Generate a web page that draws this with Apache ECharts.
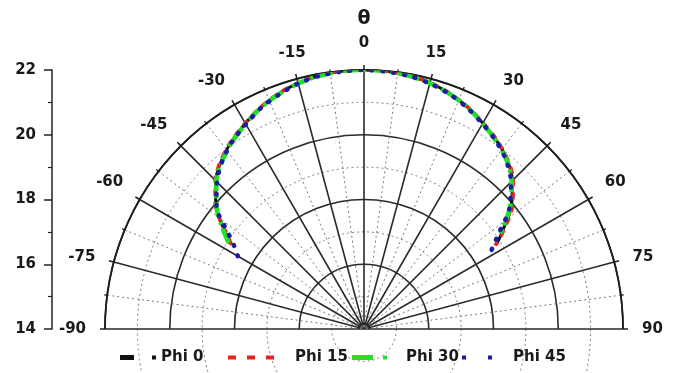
<!DOCTYPE html>
<html>
<head>
<meta charset="utf-8">
<script src="https://cdn.jsdelivr.net/npm/echarts@6/dist/echarts.min.js"></script>
<style>
  html, body { margin: 0; padding: 0; background: #fff; }
  #chart { width: 676px; height: 373px; }
</style>
</head>
<body>
<div id="chart"></div>
<script>
// Polar angle (degrees) shared by every curve
var theta = [-60, -57.5, -55, -50, -45, -40, -35, -30, -25, -20, -15, -10, -5, 0,
             5, 10, 15, 20, 25, 30, 35, 40, 45, 50, 55, 57.5, 60];

// Radial values for each phi cut (null = no sample at that angle)
var phi0  = [null, 18.9, 19.25, 19.98, 20.48, 20.83, 21.1, 21.33, 21.55, 21.73, 21.86, 21.95, 21.99, 22.0,
             21.99, 21.95, 21.87, 21.74, 21.56, 21.34, 21.12, 20.86, 20.48, 19.95, 19.2, 18.85, null];
var phi15 = [null, 18.85, 19.2, 20.0, 20.5, 20.85, 21.12, 21.34, 21.56, 21.74, 21.87, 21.96, 22.0, 22.0,
             22.0, 21.96, 21.88, 21.75, 21.57, 21.36, 21.14, 20.88, 20.52, 20.0, 19.25, 18.8, null];
var phi30 = [null, 18.95, 19.3, 19.95, 20.45, 20.8, 21.08, 21.31, 21.54, 21.71, 21.85, 21.94, 21.99, 22.0,
             21.99, 21.94, 21.86, 21.73, 21.55, 21.33, 21.1, 20.84, 20.45, 19.9, 19.15, null, null];
var phi45 = [18.5, 18.75, 19.1, 19.95, 20.42, 20.8, 21.08, 21.3, 21.53, 21.7, 21.85, 21.94, 21.98, 22.0,
             21.98, 21.94, 21.85, 21.72, 21.54, 21.32, 21.1, 20.82, 20.42, 19.88, 19.05, 18.72, 18.45];

var seriesNames = ['Phi 0', 'Phi 15', 'Phi 30', 'Phi 45'];

var radiusMin = 14, radiusMax = 22, radiusStep = 2;
var angleMin = -90, angleMax = 90, angleStep = 15;

function pairs(values) {
  return values.map(function (r, i) { return [r, theta[i]]; });
}

var FONT = '"DejaVu Sans", Verdana, sans-serif';
var INK = '#1a1a1a';
var labelStyle = { color: INK, fontFamily: FONT, fontWeight: 'bold', fontSize: 15 };

var colors = { 'Phi 0': '#111111', 'Phi 15': '#e8231f', 'Phi 30': '#22e022', 'Phi 45': '#1c1ca8' };

// Key samples, one small legend per entry so each sits where it belongs
var legendIcons = {
  'Phi 0':  { icon: 'path://M0,0h14v5h-14z M32,0.5h4v4h-4z', w: 36, h: 5, left: 120, pad: 0 },
  'Phi 15': { icon: 'path://M0,0h8v4h-8z M19,0h8v4h-8z M38,0h8v4h-8z', w: 46, h: 4, left: 228, pad: 16 },
  'Phi 30': { icon: 'path://M0,0h21v5h-21z M31,0.5h4v4h-4z', w: 35, h: 5, left: 352, pad: 14 },
  'Phi 45': { icon: 'path://M0,0.5h4v4h-4z M26,0.5h4v4h-4z', w: 30, h: 5, left: 462, pad: 16 }
};

var legends = seriesNames.map(function (name) {
  var k = legendIcons[name];
  return {
    data: [{ name: name, icon: k.icon, itemStyle: { color: colors[name] } }],
    left: k.left, top: 350,
    itemWidth: k.w, itemHeight: k.h, itemGap: 0, padding: 0,
    selectedMode: false,
    textStyle: { color: INK, fontFamily: FONT, fontWeight: 'bold', fontSize: 15, padding: [0, 0, 0, k.pad] }
  };
});

var chart = echarts.init(document.getElementById('chart'), null, { renderer: 'canvas' });

chart.setOption({
  backgroundColor: '#fff',
  animation: false,
  graphic: [{
    type: 'text', x: 364, y: 19,
    style: { text: 'θ', fill: INK, font: 'bold 19px ' + FONT, align: 'center', verticalAlign: 'middle' }
  }],
  legend: legends,
  // plain vertical scale for the radius, drawn at the left
  grid: { left: 52, top: 70, width: 1, height: 259 },
  xAxis: { type: 'value', show: false },
  yAxis: {
    type: 'value', min: radiusMin, max: radiusMax, interval: radiusStep,
    axisLine: { show: true, lineStyle: { color: '#222', width: 1.5 } },
    axisTick: { show: true, length: 8, lineStyle: { color: '#222', width: 1.5 } },
    minorTick: { show: true, splitNumber: 2, length: 4, lineStyle: { color: '#222', width: 1.2 } },
    splitLine: { show: false },
    axisLabel: Object.assign({ margin: 16 }, labelStyle)
  },
  polar: { center: [364, 329], radius: [0, 259] },
  angleAxis: {
    type: 'value', min: angleMin, max: angleMax, interval: angleStep,
    startAngle: 180, endAngle: 0, clockwise: true,
    axisLine: { lineStyle: { color: '#1e1e1e', width: 1.8 } },
    axisTick: { show: true, length: 5, lineStyle: { color: '#1e1e1e', width: 1.5 } },
    minorTick: { show: true, splitNumber: 2, length: 3, lineStyle: { color: '#1e1e1e', width: 1.2 } },
    splitLine: { show: true, lineStyle: { color: '#2a2a2a', width: 1.6 } },
    minorSplitLine: { show: true, lineStyle: { color: '#7a7a7a', width: 1, type: [2, 3] } },
    axisLabel: Object.assign({ margin: 19 }, labelStyle)
  },
  radiusAxis: {
    type: 'value', min: radiusMin, max: radiusMax, interval: radiusStep,
    axisLine: { show: false }, axisTick: { show: false }, axisLabel: { show: false },
    splitLine: { show: true, lineStyle: { color: '#2a2a2a', width: 1.6 } },
    minorTick: { show: false, splitNumber: 2 },
    minorSplitLine: { show: true, lineStyle: { color: '#7a7a7a', width: 1, type: [2, 3] } }
  },
  series: [
    { name: 'Phi 0', type: 'line', coordinateSystem: 'polar', symbol: 'none', smooth: 0.3,
      data: pairs(phi0), lineStyle: { color: colors['Phi 0'], width: 3 }, itemStyle: { color: colors['Phi 0'] } },
    { name: 'Phi 15', type: 'line', coordinateSystem: 'polar', symbol: 'none', smooth: 0.3,
      data: pairs(phi15), lineStyle: { color: colors['Phi 15'], width: 3.5, type: [7, 6] }, itemStyle: { color: colors['Phi 15'] } },
    { name: 'Phi 30', type: 'line', coordinateSystem: 'polar', symbol: 'none', smooth: 0.3,
      data: pairs(phi30), lineStyle: { color: colors['Phi 30'], width: 4.5, type: [16, 4, 3, 4] }, itemStyle: { color: colors['Phi 30'] } },
    { name: 'Phi 45', type: 'line', coordinateSystem: 'polar', symbol: 'none', smooth: 0.3,
      data: pairs(phi45), lineStyle: { color: colors['Phi 45'], width: 4.5, type: [1, 10], cap: 'round' }, itemStyle: { color: colors['Phi 45'] } }
  ]
});
</script>
</body>
</html>
